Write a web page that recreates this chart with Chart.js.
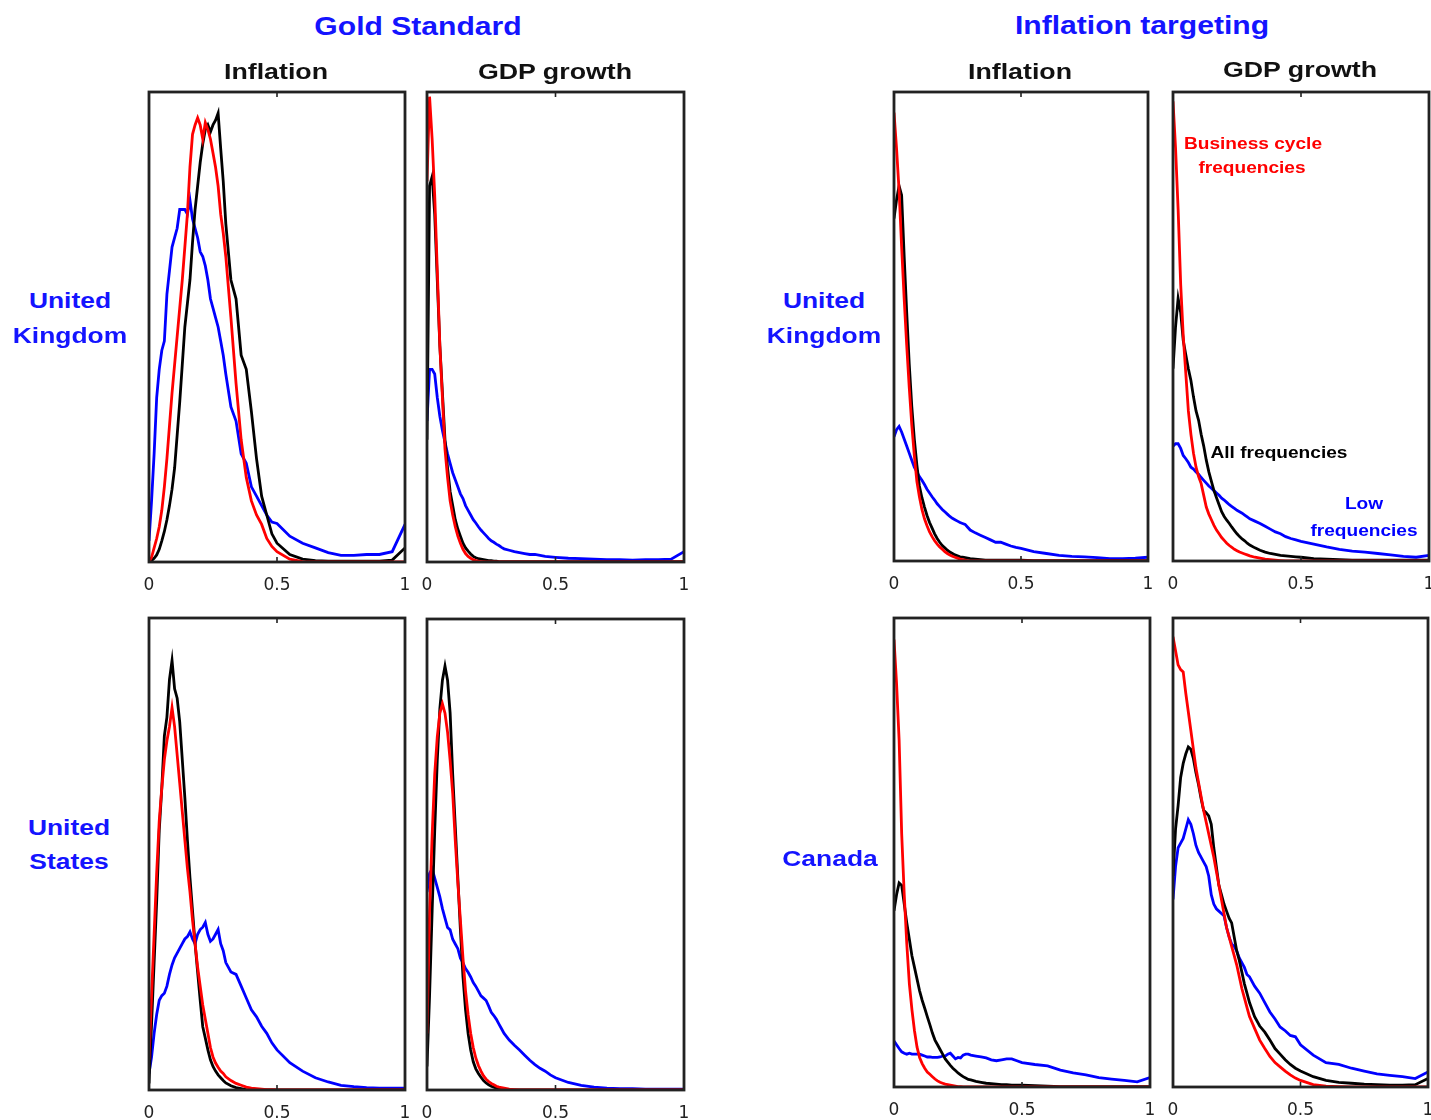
<!DOCTYPE html>
<html>
<head>
<meta charset="utf-8">
<title>Gold Standard vs Inflation targeting</title>
<script src="https://cdn.jsdelivr.net/npm/chart.js@4.4.1/dist/chart.umd.min.js"></script>
<style>
  html, body { margin: 0; padding: 0; background: #fff; overflow: hidden; }
  #page { position: relative; width: 1431px; height: 1120px; }
  .panel { position: absolute; }
  .lbl {
    position: absolute; white-space: nowrap; line-height: 1;
    font-family: "Liberation Sans", Arial, sans-serif; font-weight: bold;
    transform: translate(-50%, -50%) scaleX(1.18);
  }
</style>
</head>
<body>
<div id="page"></div>
<script>
// frequency grid (x axis, 0 = lowest frequency share ... 1)
const freqGrid = [
  0, 0.01, 0.02, 0.03, 0.04, 0.05, 0.06, 0.07, 0.08, 0.09, 0.10,
  0.11, 0.12, 0.13, 0.14, 0.15, 0.16, 0.17, 0.18, 0.19, 0.20,
  0.21, 0.22, 0.23, 0.24, 0.25, 0.26, 0.27, 0.28, 0.29, 0.30,
  0.32, 0.34, 0.36, 0.38, 0.40, 0.42, 0.44, 0.46, 0.48, 0.50,
  0.55, 0.60, 0.65, 0.70, 0.75, 0.80, 0.85, 0.90, 0.95, 1.00
];
const xTicks = [0, 0.5, 1];

// Gold Standard - United Kingdom - Inflation
const gsUkInfAll = [0, 0.003, 0.008, 0.015, 0.027, 0.045, 0.065, 0.09, 0.12, 0.155, 0.2,
  0.27, 0.34, 0.42, 0.5, 0.55, 0.6, 0.68, 0.75, 0.8, 0.85,
  0.89, 0.92, 0.93, 0.915, 0.93, 0.94, 0.955, 0.88, 0.81, 0.72,
  0.6, 0.56, 0.44, 0.41, 0.32, 0.22, 0.14, 0.1, 0.06, 0.04,
  0.016, 0.006, 0.003, 0.002, 0.002, 0.002, 0.002, 0.002, 0.004, 0.03];
const gsUkInfBc = [0, 0.01, 0.03, 0.05, 0.075, 0.11, 0.16, 0.22, 0.29, 0.36, 0.42,
  0.48, 0.54, 0.6, 0.67, 0.74, 0.84, 0.91, 0.93, 0.945, 0.93,
  0.9, 0.935, 0.92, 0.9, 0.87, 0.84, 0.8, 0.74, 0.7, 0.65,
  0.52, 0.38, 0.26, 0.18, 0.13, 0.1, 0.08, 0.05, 0.033, 0.022,
  0.006, 0.001, 0, 0, 0, 0, 0, 0, 0, 0];
const gsUkInfLow = [0.045, 0.13, 0.23, 0.35, 0.41, 0.45, 0.47, 0.57, 0.62, 0.67, 0.69,
  0.71, 0.75, 0.75, 0.75, 0.74, 0.77, 0.73, 0.71, 0.69, 0.66,
  0.65, 0.63, 0.6, 0.56, 0.54, 0.52, 0.5, 0.47, 0.44, 0.4,
  0.33, 0.3, 0.23, 0.21, 0.16, 0.14, 0.12, 0.1, 0.085, 0.082,
  0.055, 0.04, 0.03, 0.02, 0.014, 0.014, 0.016, 0.016, 0.022, 0.08];

// Gold Standard - United Kingdom - GDP growth
const gsUkGdpAll = [0.26, 0.8, 0.82, 0.74, 0.6, 0.46, 0.36, 0.26, 0.2, 0.15, 0.12,
  0.09, 0.07, 0.055, 0.04, 0.03, 0.023, 0.017, 0.012, 0.009, 0.007,
  0.006, 0.005, 0.004, 0.003, 0.003, 0.002, 0.002, 0.001, 0.001, 0.001,
  0.001, 0.001, 0.001, 0.001, 0.001, 0.001, 0.001, 0.001, 0.001, 0.001,
  0.001, 0.001, 0.001, 0.001, 0.001, 0.001, 0.001, 0.001, 0.001, 0.001];
const gsUkGdpBc = [0.81, 0.99, 0.9, 0.78, 0.62, 0.46, 0.35, 0.24, 0.18, 0.13, 0.1,
  0.075, 0.055, 0.04, 0.027, 0.018, 0.012, 0.008, 0.005, 0.003, 0.002,
  0.001, 0.001, 0, 0, 0, 0, 0, 0, 0, 0,
  0, 0, 0, 0, 0, 0, 0, 0, 0, 0,
  0, 0, 0, 0, 0, 0, 0, 0, 0, 0];
const gsUkGdpLow = [0.3, 0.41, 0.41, 0.4, 0.35, 0.31, 0.28, 0.255, 0.23, 0.21, 0.19,
  0.175, 0.16, 0.145, 0.135, 0.12, 0.11, 0.1, 0.09, 0.083, 0.075,
  0.068, 0.062, 0.056, 0.05, 0.045, 0.042, 0.038, 0.035, 0.031, 0.028,
  0.025, 0.022, 0.02, 0.018, 0.016, 0.016, 0.014, 0.012, 0.011, 0.01,
  0.008, 0.007, 0.006, 0.005, 0.005, 0.004, 0.005, 0.005, 0.006, 0.022];

// Inflation targeting - United Kingdom - Inflation
const itUkInfAll = [0.73, 0.77, 0.8, 0.78, 0.65, 0.53, 0.42, 0.33, 0.26, 0.205, 0.16,
  0.135, 0.115, 0.097, 0.082, 0.07, 0.058, 0.048, 0.04, 0.033, 0.028,
  0.023, 0.019, 0.016, 0.013, 0.011, 0.009, 0.008, 0.007, 0.006, 0.005,
  0.004, 0.003, 0.002, 0.002, 0.002, 0.002, 0.002, 0.002, 0.002, 0.002,
  0.001, 0.001, 0.001, 0.001, 0.001, 0.001, 0.001, 0.001, 0.001, 0.001];
const itUkInfBc = [0.956, 0.88, 0.79, 0.67, 0.56, 0.46, 0.37, 0.29, 0.225, 0.17, 0.137,
  0.11, 0.09, 0.075, 0.062, 0.052, 0.043, 0.036, 0.03, 0.025, 0.02,
  0.016, 0.013, 0.01, 0.008, 0.006, 0.004, 0.003, 0.002, 0.001, 0,
  0, 0, 0, 0, 0, 0, 0, 0, 0, 0,
  0, 0, 0, 0, 0, 0, 0, 0, 0, 0];
const itUkInfLow = [0.265, 0.28, 0.287, 0.275, 0.26, 0.245, 0.23, 0.215, 0.2, 0.19, 0.18,
  0.172, 0.163, 0.153, 0.145, 0.137, 0.13, 0.122, 0.116, 0.11, 0.105,
  0.1, 0.095, 0.091, 0.088, 0.085, 0.082, 0.08, 0.078, 0.072, 0.066,
  0.06, 0.055, 0.05, 0.045, 0.04, 0.04, 0.036, 0.032, 0.029, 0.027,
  0.02, 0.016, 0.012, 0.01, 0.009, 0.007, 0.005, 0.005, 0.006, 0.008];

// Inflation targeting - United Kingdom - GDP growth
const itUkGdpAll = [0.41, 0.5, 0.56, 0.53, 0.47, 0.44, 0.41, 0.385, 0.35, 0.32, 0.3,
  0.27, 0.245, 0.215, 0.19, 0.17, 0.15, 0.135, 0.12, 0.105, 0.095,
  0.087, 0.08, 0.072, 0.065, 0.058, 0.052, 0.047, 0.043, 0.038, 0.034,
  0.028, 0.023, 0.019, 0.016, 0.014, 0.012, 0.011, 0.01, 0.009, 0.008,
  0.005, 0.004, 0.003, 0.002, 0.002, 0.002, 0.002, 0.002, 0.002, 0.002];
const itUkGdpBc = [0.98, 0.88, 0.75, 0.59, 0.48, 0.4, 0.32, 0.27, 0.23, 0.2, 0.18,
  0.165, 0.14, 0.115, 0.1, 0.088, 0.076, 0.066, 0.058, 0.05, 0.044,
  0.038, 0.033, 0.029, 0.025, 0.022, 0.019, 0.017, 0.015, 0.013, 0.011,
  0.008, 0.006, 0.004, 0.003, 0.002, 0.001, 0, 0, 0, 0,
  0, 0, 0, 0, 0, 0, 0, 0, 0, 0];
const itUkGdpLow = [0.245, 0.25, 0.25, 0.24, 0.225, 0.218, 0.21, 0.2, 0.196, 0.19, 0.185,
  0.178, 0.172, 0.166, 0.16, 0.155, 0.15, 0.145, 0.14, 0.134, 0.13,
  0.125, 0.12, 0.116, 0.112, 0.108, 0.105, 0.102, 0.098, 0.094, 0.09,
  0.085, 0.08, 0.074, 0.068, 0.062, 0.058, 0.052, 0.048, 0.045, 0.042,
  0.036, 0.03, 0.025, 0.021, 0.019, 0.016, 0.013, 0.01, 0.008, 0.012];

// Gold Standard - United States - Inflation
const gsUsInfAll = [0.014, 0.14, 0.27, 0.4, 0.55, 0.64, 0.75, 0.79, 0.87, 0.91, 0.85,
  0.83, 0.78, 0.7, 0.62, 0.53, 0.45, 0.38, 0.31, 0.25, 0.19,
  0.134, 0.11, 0.085, 0.064, 0.05, 0.04, 0.032, 0.026, 0.02, 0.015,
  0.009, 0.005, 0.003, 0.001, 0, 0, 0, 0, 0, 0,
  0, 0, 0, 0, 0, 0, 0, 0, 0, 0];
const gsUsInfBc = [0.064, 0.2, 0.33, 0.46, 0.57, 0.64, 0.7, 0.74, 0.77, 0.81, 0.77,
  0.71, 0.65, 0.59, 0.53, 0.47, 0.42, 0.36, 0.31, 0.26, 0.22,
  0.18, 0.15, 0.12, 0.09, 0.07, 0.057, 0.048, 0.04, 0.035, 0.028,
  0.02, 0.014, 0.01, 0.006, 0.004, 0.003, 0.002, 0.001, 0.001, 0,
  0, 0, 0, 0, 0, 0, 0, 0, 0, 0];
const gsUsInfLow = [0.035, 0.07, 0.12, 0.16, 0.19, 0.2, 0.205, 0.22, 0.245, 0.265, 0.28,
  0.29, 0.3, 0.31, 0.32, 0.325, 0.335, 0.32, 0.31, 0.33, 0.34,
  0.345, 0.355, 0.33, 0.315, 0.32, 0.33, 0.34, 0.31, 0.295, 0.27,
  0.25, 0.245, 0.22, 0.195, 0.17, 0.155, 0.135, 0.12, 0.1, 0.085,
  0.058, 0.04, 0.026, 0.017, 0.01, 0.007, 0.005, 0.004, 0.004, 0.004];

// Gold Standard - United States - GDP growth
const gsUsGdpAll = [0.05, 0.2, 0.38, 0.55, 0.7, 0.81, 0.87, 0.9, 0.87, 0.8, 0.67,
  0.56, 0.45, 0.34, 0.24, 0.17, 0.12, 0.085, 0.06, 0.045, 0.035,
  0.027, 0.02, 0.015, 0.011, 0.008, 0.006, 0.004, 0.003, 0.002, 0.001,
  0, 0, 0, 0, 0, 0, 0, 0, 0, 0,
  0, 0, 0, 0, 0, 0, 0, 0, 0, 0];
const gsUsGdpBc = [0.12, 0.38, 0.54, 0.67, 0.75, 0.8, 0.82, 0.8, 0.76, 0.7, 0.63,
  0.53, 0.44, 0.36, 0.28, 0.21, 0.16, 0.12, 0.09, 0.068, 0.052,
  0.04, 0.03, 0.023, 0.018, 0.014, 0.011, 0.008, 0.006, 0.005, 0.004,
  0.002, 0.001, 0, 0, 0, 0, 0, 0, 0, 0,
  0, 0, 0, 0, 0, 0, 0, 0, 0, 0];
const gsUsGdpLow = [0.42, 0.46, 0.47, 0.45, 0.43, 0.41, 0.385, 0.365, 0.345, 0.34, 0.32,
  0.31, 0.3, 0.28, 0.27, 0.258, 0.25, 0.24, 0.228, 0.22, 0.21,
  0.2, 0.195, 0.19, 0.178, 0.165, 0.158, 0.15, 0.14, 0.13, 0.12,
  0.106, 0.095, 0.085, 0.074, 0.063, 0.054, 0.046, 0.04, 0.032, 0.026,
  0.016, 0.01, 0.006, 0.004, 0.003, 0.003, 0.002, 0.002, 0.002, 0.002];

// Inflation targeting - Canada - Inflation
const itCaInfAll = [0.376, 0.41, 0.435, 0.43, 0.39, 0.35, 0.315, 0.28, 0.255, 0.23, 0.205,
  0.185, 0.168, 0.15, 0.133, 0.115, 0.1, 0.09, 0.08, 0.07, 0.06,
  0.053, 0.046, 0.04, 0.035, 0.03, 0.026, 0.022, 0.019, 0.016, 0.015,
  0.012, 0.01, 0.008, 0.007, 0.006, 0.005, 0.005, 0.004, 0.004, 0.004,
  0.003, 0.002, 0.001, 0.001, 0.001, 0.001, 0.001, 0.001, 0.001, 0.001];
const itCaInfBc = [0.954, 0.86, 0.74, 0.54, 0.41, 0.305, 0.22, 0.165, 0.12, 0.085, 0.063,
  0.05, 0.04, 0.032, 0.027, 0.022, 0.017, 0.013, 0.01, 0.008, 0.006,
  0.005, 0.004, 0.003, 0.002, 0.001, 0.001, 0, 0, 0, 0,
  0, 0, 0, 0, 0, 0, 0, 0, 0, 0,
  0, 0, 0, 0, 0, 0, 0, 0, 0, 0];
const itCaInfLow = [0.098, 0.09, 0.082, 0.075, 0.072, 0.07, 0.072, 0.07, 0.07, 0.07, 0.07,
  0.068, 0.066, 0.064, 0.064, 0.063, 0.063, 0.063, 0.064, 0.066, 0.066,
  0.07, 0.072, 0.066, 0.06, 0.063, 0.062, 0.068, 0.07, 0.07, 0.068,
  0.066, 0.064, 0.062, 0.058, 0.056, 0.058, 0.06, 0.06, 0.056, 0.052,
  0.048, 0.045, 0.036, 0.03, 0.026, 0.02, 0.017, 0.014, 0.011, 0.02];

// Inflation targeting - Canada - GDP growth
const itCaGdpAll = [0.45, 0.55, 0.6, 0.66, 0.69, 0.71, 0.725, 0.72, 0.7, 0.67, 0.645,
  0.615, 0.59, 0.585, 0.578, 0.56, 0.51, 0.47, 0.43, 0.41, 0.39,
  0.375, 0.36, 0.35, 0.32, 0.29, 0.27, 0.245, 0.22, 0.2, 0.18,
  0.15, 0.13, 0.117, 0.1, 0.082, 0.07, 0.058, 0.048, 0.04, 0.034,
  0.022, 0.014, 0.01, 0.008, 0.006, 0.005, 0.004, 0.004, 0.005, 0.018];
const itCaGdpBc = [0.96, 0.93, 0.9, 0.89, 0.885, 0.84, 0.8, 0.76, 0.72, 0.68, 0.65,
  0.62, 0.59, 0.565, 0.54, 0.515, 0.49, 0.46, 0.43, 0.4, 0.37,
  0.34, 0.32, 0.3, 0.28, 0.26, 0.235, 0.21, 0.19, 0.17, 0.15,
  0.125, 0.1, 0.082, 0.065, 0.052, 0.043, 0.034, 0.026, 0.019, 0.014,
  0.005, 0.002, 0.001, 0, 0, 0, 0, 0, 0, 0];
const itCaGdpLow = [0.4, 0.47, 0.51, 0.52, 0.53, 0.55, 0.57, 0.56, 0.54, 0.515, 0.5,
  0.49, 0.48, 0.47, 0.45, 0.41, 0.39, 0.38, 0.375, 0.37, 0.365,
  0.34, 0.32, 0.305, 0.3, 0.29, 0.275, 0.265, 0.255, 0.24, 0.235,
  0.215, 0.2, 0.18, 0.16, 0.145, 0.128, 0.12, 0.11, 0.107, 0.09,
  0.068, 0.052, 0.048, 0.04, 0.034, 0.028, 0.025, 0.022, 0.018, 0.032];

// =================================================================
// layout
// =================================================================
const RED = '#ff0000', BLACK = '#000000', BLUE = '#0000ff';
const TEXT_BLUE = '#1414ff';

// frame of each panel in page pixels: left, top, right, bottom
const panels = [
  { box: [149, 92, 405, 562],   all: gsUkInfAll, bc: gsUkInfBc, low: gsUkInfLow },
  { box: [427, 92, 684, 562],   all: gsUkGdpAll, bc: gsUkGdpBc, low: gsUkGdpLow },
  { box: [894, 92, 1148, 561],  all: itUkInfAll, bc: itUkInfBc, low: itUkInfLow },
  { box: [1173, 92, 1429, 561], all: itUkGdpAll, bc: itUkGdpBc, low: itUkGdpLow },
  { box: [149, 618, 405, 1090], all: gsUsInfAll, bc: gsUsInfBc, low: gsUsInfLow },
  { box: [427, 619, 684, 1090], all: gsUsGdpAll, bc: gsUsGdpBc, low: gsUsGdpLow },
  { box: [894, 618, 1150, 1087], all: itCaInfAll, bc: itCaInfBc, low: itCaInfLow },
  { box: [1173, 618, 1428, 1087], all: itCaGdpAll, bc: itCaGdpBc, low: itCaGdpLow }
];

const PAD_X = 24, PAD_TOP = 10, AXIS_H = 40;
const page = document.getElementById('page');

// frame round the plot area with small inward ticks at 0.5 (matlab look)
const framePlugin = {
  id: 'frame',
  afterDatasetsDraw(chart) {
    const { ctx, chartArea: a, scales: { x } } = chart;
    ctx.save();
    ctx.strokeStyle = '#222';
    ctx.lineWidth = 2.8;
    ctx.strokeRect(a.left, a.top, a.right - a.left, a.bottom - a.top);
    ctx.lineWidth = 1.6;
    const mid = x.getPixelForValue(0.5);
    ctx.beginPath();
    ctx.moveTo(mid, a.top); ctx.lineTo(mid, a.top + 5);
    ctx.moveTo(mid, a.bottom); ctx.lineTo(mid, a.bottom - 5);
    ctx.stroke();
    ctx.restore();
  }
};

function toPoints(ys) {
  return freqGrid.map((x, i) => ({ x: x, y: ys[i] }));
}

function line(ys, color) {
  return { data: toPoints(ys), borderColor: color, borderWidth: 2.8, pointRadius: 0, tension: 0, fill: false };
}

panels.forEach(p => {
  const [l, t, r, b] = p.box;
  const w = r - l + PAD_X * 2;
  const h = b - t + PAD_TOP + AXIS_H;
  const cv = document.createElement('canvas');
  cv.className = 'panel';
  cv.width = w; cv.height = h;
  cv.style.left = (l - PAD_X) + 'px';
  cv.style.top = (t - PAD_TOP) + 'px';
  cv.style.width = w + 'px'; cv.style.height = h + 'px';
  page.appendChild(cv);

  new Chart(cv, {
    type: 'line',
    data: { datasets: [line(p.bc, RED), line(p.all, BLACK), line(p.low, BLUE)] },
    options: {
      responsive: false,
      animation: false,
      events: [],
      layout: { padding: { left: PAD_X, right: PAD_X, top: PAD_TOP, bottom: 0 } },
      plugins: { legend: { display: false }, tooltip: { enabled: false } },
      scales: {
        x: {
          type: 'linear', min: 0, max: 1,
          grid: { display: false, drawTicks: false },
          border: { display: false },
          afterBuildTicks: s => { s.ticks = xTicks.map(v => ({ value: v })); },
          afterFit: s => { s.height = AXIS_H; },
          ticks: {
            padding: 13, maxRotation: 0, autoSkip: false, color: '#222',
            font: { family: '"DejaVu Sans", sans-serif', size: 17 },
            callback: v => String(v)
          }
        },
        y: { display: false, min: 0, max: 1 }
      }
    },
    plugins: [framePlugin]
  });
});

// =================================================================
// texts
// =================================================================
function addText(str, cx, cy, size, color) {
  const d = document.createElement('div');
  d.className = 'lbl';
  d.textContent = str;
  d.style.left = cx + 'px';
  d.style.top = cy + 'px';
  d.style.fontSize = size + 'px';
  d.style.color = color;
  page.appendChild(d);
}

addText('Gold Standard', 418, 27, 25.5, TEXT_BLUE);
addText('Inflation targeting', 1142, 26, 25.5, TEXT_BLUE);

addText('Inflation', 276, 71, 22.7, '#111');
addText('GDP growth', 555, 71, 22.7, '#111');
addText('Inflation', 1020, 71, 22.7, '#111');
addText('GDP growth', 1300, 69, 22.7, '#111');

addText('United', 70, 301, 22.4, TEXT_BLUE);
addText('Kingdom', 70, 336, 22.4, TEXT_BLUE);
addText('United', 69, 828, 22.4, TEXT_BLUE);
addText('States', 69, 862, 22.4, TEXT_BLUE);
addText('United', 824, 301, 22.4, TEXT_BLUE);
addText('Kingdom', 824, 336, 22.4, TEXT_BLUE);
addText('Canada', 830, 859, 22.4, TEXT_BLUE);

addText('Business cycle', 1253, 143, 16.2, RED);
addText('frequencies', 1252, 167, 16.2, RED);
addText('All frequencies', 1279, 452, 16.2, BLACK);
addText('Low', 1364, 503, 16.2, BLUE);
addText('frequencies', 1364, 530, 16.2, BLUE);
</script>
</body>
</html>
